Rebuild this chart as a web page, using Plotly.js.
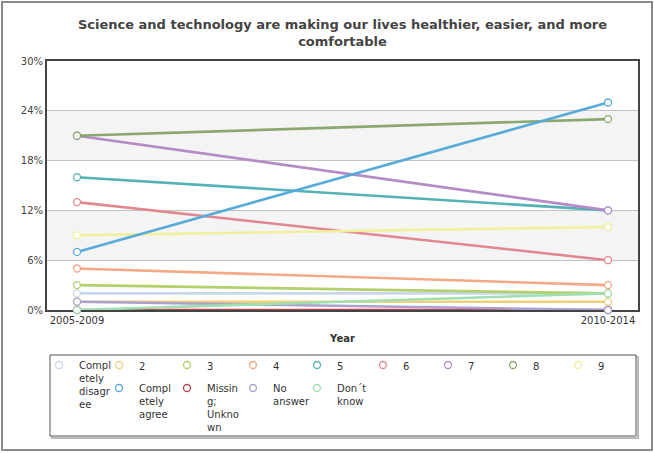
<!DOCTYPE html>
<html>
<head>
<meta charset="utf-8">
<script src="https://cdn.plot.ly/plotly-3.0.1.min.js"></script>
<style>
html,body{margin:0;padding:0;background:#fff;}
#chart{width:654px;height:453px;}
</style>
</head>
<body>
<div id="chart"></div>
<script>
// ---- data ----
const categories = ['2005-2009', '2010-2014'];
const seriesNames = [
  'Compl<br>etely<br>disagr<br>ee', '2', '3', '4', '5', '6', '7', '8', '9',
  'Compl<br>etely<br>agree', 'Missin<br>g;<br>Unkno<br>wn', 'No<br>answer', 'Don´t<br>know'
];
const completelyDisagree = [2, 2];
const val2 = [1, 1];
const val3 = [3, 2];
const val4 = [5, 3];
const val5 = [16, 12];
const val6 = [13, 6];
const val7 = [21, 12];
const val8 = [21, 23];
const val9 = [9, 10];
const completelyAgree = [7, 25];
const missingUnknown = [0, 0];
const noAnswer = [1, 0];
const dontKnow = [0, 2];
const yTicks = [0, 6, 12, 18, 24, 30];
const yTickLabels = ['0%', '6%', '12%', '18%', '24%', '30%'];

const seriesValues = [completelyDisagree, val2, val3, val4, val5, val6, val7, val8, val9,
  completelyAgree, missingUnknown, noAnswer, dontKnow];
const colors = ['#c6d7ea', '#f0cf78', '#b3d06c', '#f4a985', '#54b1b5', '#e08890', '#b48bc8',
  '#8aa86e', '#f2ee9c', '#58abd9', '#b0484e', '#aca0cc', '#a0dfb4'];
const legendCol = [1, 2, 3, 4, 5, 6, 7, 8, 9, 2, 3, 4, 5];
const colX = [59, 119, 187, 253, 317, 383, 448, 513, 578];

const traces = [];
seriesValues.forEach((vals, i) => {
  const lg = legendCol[i] === 1 ? 'legend' : 'legend' + legendCol[i];
  traces.push({
    type: 'scatter', mode: 'lines', x: categories, y: vals, cliponaxis: false,
    line: {color: colors[i], width: 2.6}, showlegend: false,
    legendgroup: 'g' + i, hoverinfo: 'skip'
  });
  traces.push({
    type: 'scatter', mode: 'markers', x: categories, y: vals, name: seriesNames[i], cliponaxis: false,
    marker: {symbol: 'circle', size: 7, color: '#ffffff', line: {color: colors[i], width: 1.3}},
    legendgroup: 'g' + i, legend: lg, showlegend: true
  });
});

const W = 654, H = 453, L = 47, R = 16, T = 61, B = 143;
const pw = W - L - R, ph = H - T - B;
const px = v => (v - L) / pw;
const py = v => (H - B - v) / ph;

const layout = {
  width: W, height: H,
  margin: {l: L, r: R, t: T, b: B, autoexpand: false},
  paper_bgcolor: '#ffffff', plot_bgcolor: '#ffffff',
  font: {family: 'DejaVu Sans, Verdana, sans-serif', size: 10, color: '#333'},
  title: {
    text: 'Science and technology are making our lives healthier, easier, and more<br>comfortable',
    font: {family: 'DejaVu Sans, Verdana, sans-serif', size: 13, color: '#444', weight: 'bold'},
    x: 0.5, xref: 'paper', xanchor: 'center', y: 1 - 29 / H, yanchor: 'top'
  },
  xaxis: {
    type: 'category', range: [-0.0565, 1.0565], showgrid: false, zeroline: false,
    showline: true, mirror: true, linecolor: '#444', linewidth: 2, ticks: '', automargin: false,
    layer: 'below traces', tickfont: {size: 10, color: '#333'},
    title: {text: 'Year', font: {size: 10, color: '#333', weight: 'bold'}, standoff: 10}
  },
  yaxis: {
    range: [0, 30], tickmode: 'array', tickvals: yTicks, ticktext: yTickLabels,
    showgrid: true, gridcolor: '#c4c4c4', layer: 'below traces',
    gridwidth: 1, zeroline: false, showline: true, mirror: true, linecolor: '#444', linewidth: 2,
    ticks: '', automargin: false, tickfont: {size: 10, color: '#444'}
  },
  shapes: [
    {type: 'rect', xref: 'paper', yref: 'y', x0: 0, x1: 1, y0: 6, y1: 12, fillcolor: '#f4f4f4', line: {width: 0}, layer: 'below'},
    {type: 'rect', xref: 'paper', yref: 'y', x0: 0, x1: 1, y0: 18, y1: 24, fillcolor: '#f4f4f4', line: {width: 0}, layer: 'below'},
    {type: 'rect', xref: 'paper', yref: 'paper', x0: px(52), x1: px(638), y0: py(438), y1: py(357), fillcolor: 'rgba(0,0,0,0)', line: {color: '#bbbbbb', width: 2}, layer: 'below'},
    {type: 'rect', xref: 'paper', yref: 'paper', x0: px(50), x1: px(636), y0: py(436), y1: py(355), fillcolor: '#ffffff', line: {color: '#555', width: 1}, layer: 'below'},
    {type: 'rect', xref: 'paper', yref: 'paper', x0: px(2), x1: px(652), y0: py(450), y1: py(2), fillcolor: 'rgba(0,0,0,0)', line: {color: '#8a8a8a', width: 2}}
  ]
};

colX.forEach((cx, k) => {
  const key = k === 0 ? 'legend' : 'legend' + (k + 1);
  layout[key] = {
    x: (cx - 20) / W, xref: 'container', xanchor: 'left',
    y: 1 - 352 / H, yref: 'container', yanchor: 'top',
    bgcolor: 'rgba(0,0,0,0)', borderwidth: 0, valign: 'top', tracegroupgap: 4,
    font: {family: 'DejaVu Sans, Verdana, sans-serif', size: 10, color: '#333'},
    orientation: 'v', itemclick: false, itemdoubleclick: false
  };
});

Plotly.newPlot('chart', traces, layout, {displayModeBar: false, staticPlot: true});
</script>
</body>
</html>
